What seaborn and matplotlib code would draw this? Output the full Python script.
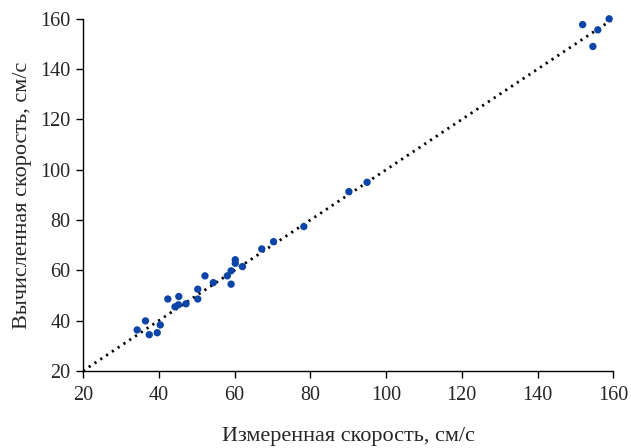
import matplotlib
matplotlib.use("Agg")
import matplotlib.pyplot as plt
import seaborn as sns
import pandas as pd

measured = [34.3, 36.5, 37.5, 39.6, 40.4, 42.4, 44.3, 45.2, 45.3, 47.2, 50.3, 50.3,
            52.2, 54.4, 58.1, 59.1, 59.1, 60.2, 60.2, 62.1, 67.2, 70.3, 78.3, 90.2,
            95.0, 151.9, 155.9, 158.9, 154.6]
computed = [36.3, 39.9, 34.4, 35.2, 38.3, 48.6, 45.5, 46.3, 49.6, 46.7, 52.5, 48.6,
            57.8, 55.1, 57.8, 59.8, 54.5, 64.2, 62.8, 61.5, 68.5, 71.4, 77.4, 91.3,
            95.0, 157.7, 155.6, 160.0, 149.0]
line_x = [20, 160]
line_y = [20, 160]
ticks = [20, 40, 60, 80, 100, 120, 140, 160]

sns.set_style("ticks")
plt.rcParams['font.family'] = ['Liberation Serif', 'DejaVu Serif']

fig = plt.figure(figsize=(6.31, 4.48), dpi=100)
ax = fig.add_axes([0.1315, 0.172, 0.8405, 0.786])

df = pd.DataFrame({"x": measured, "y": computed})
sns.lineplot(x=line_x, y=line_y, ax=ax, color="black", linewidth=2.0,
             linestyle=(0, (0.8, 1.7)), zorder=1)
sns.scatterplot(data=df, x="x", y="y", ax=ax, color="#0B45A8", s=28,
                edgecolor="none", zorder=2, clip_on=False)

ax.set_xlim(20, 160)
ax.set_ylim(20, 160)
ax.set_xticks(ticks)
ax.set_yticks(ticks)
ax.tick_params(labelsize=14.5, length=5, width=1, color="black", direction="out")
ax.tick_params(axis="x", pad=6)
ax.tick_params(axis="y", pad=4)
for s in ["top", "right"]:
    ax.spines[s].set_visible(False)
for s in ["left", "bottom"]:
    ax.spines[s].set_color("black")
    ax.spines[s].set_linewidth(1)
ax.set_xlabel("Измеренная скорость, см/с", fontsize=16, labelpad=16)
ax.set_ylabel("Вычисленная скорость, см/с", fontsize=16, labelpad=6)
ax.grid(False)

fig.savefig("out.png", dpi=100)
